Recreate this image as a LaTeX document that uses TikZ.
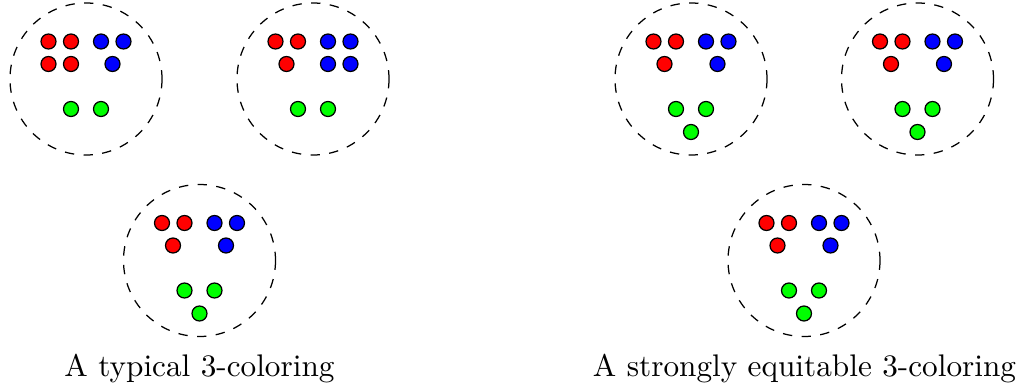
\documentclass[tikz,border=0pt]{standalone}
\begin{document}
\begin{tikzpicture}[x=0.32pt,y=0.32pt,yscale=-1,
	dot/.style={draw=black,fill=#1},
	part/.style={draw,dashed}]
	\useasboundingbox (0,0) rectangle (1018,387);

	% a typical 3-coloring
	\begin{scope}[shift={(86,79)}]
		\draw[part] (0,0) circle (76);
		\foreach \x in {-37.5,-15}
		\foreach \y in {-37.5,-15}
			\draw[dot=red] (\x,\y) circle (7.5);
		\foreach \x in {15,37.5}
			\draw[dot=blue] (\x,-37.5) circle (7.5);
		\draw[dot=blue] (26.5,-15) circle (7.5);
		\foreach \x in {-15,15}
			\draw[dot=green] (\x,30) circle (7.5);
	\end{scope}

	\begin{scope}[shift={(313,79)}]
		\draw[part] (0,0) circle (76);
		\foreach \x in {-37.5,-15}
			\draw[dot=red] (\x,-37.5) circle (7.5);
		\draw[dot=red] (-26.5,-15) circle (7.5);
		\foreach \x in {15,37.5}
		\foreach \y in {-37.5,-15}
			\draw[dot=blue] (\x,\y) circle (7.5);
		\foreach \x in {-15,15}
			\draw[dot=green] (\x,30) circle (7.5);
	\end{scope}

	\begin{scope}[shift={(199.5,260.5)}]
		\draw[part] (0,0) circle (76);
		\foreach \x in {-37.5,-15}
			\draw[dot=red] (\x,-37.5) circle (7.5);
		\draw[dot=red] (-26.5,-15) circle (7.5);
		\foreach \x in {15,37.5}
			\draw[dot=blue] (\x,-37.5) circle (7.5);
		\draw[dot=blue] (26.5,-15) circle (7.5);
		\foreach \x in {-15,15}
			\draw[dot=green] (\x,30) circle (7.5);
		\draw[dot=green] (0,53) circle (7.5);
	\end{scope}

	\node[anchor=base] (typical) at (199.5,376) {A typical 3-coloring};

	% a strongly equitable 3-coloring
	\foreach \cx/\cy in {691/79,917.5/79,804/260.5}
	{
	\begin{scope}[shift={(\cx,\cy)}]
		\draw[part] (0,0) circle (76);
		\foreach \x in {-37.5,-15}
			\draw[dot=red] (\x,-37.5) circle (7.5);
		\draw[dot=red] (-26.5,-15) circle (7.5);
		\foreach \x in {15,37.5}
			\draw[dot=blue] (\x,-37.5) circle (7.5);
		\draw[dot=blue] (26.5,-15) circle (7.5);
		\foreach \x in {-15,15}
			\draw[dot=green] (\x,30) circle (7.5);
		\draw[dot=green] (0,53) circle (7.5);
	\end{scope}
	}

	\node[anchor=base] (equitable) at (804.5,376) {A strongly equitable 3-coloring};
\end{tikzpicture}
\end{document}
